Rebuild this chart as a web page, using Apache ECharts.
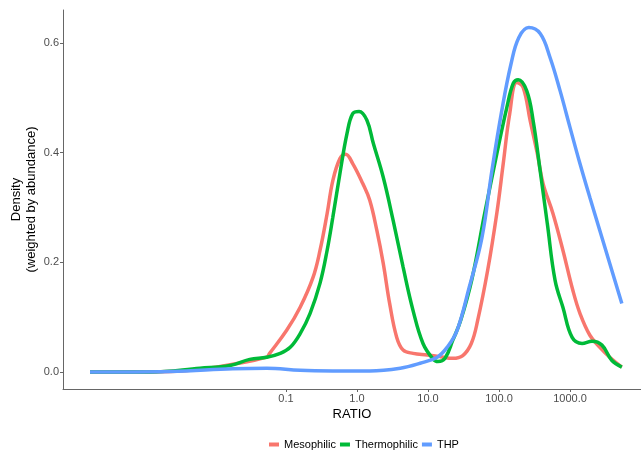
<!DOCTYPE html>
<html>
<head>
<meta charset="utf-8">
<script src="https://cdn.jsdelivr.net/npm/echarts@6/dist/echarts.min.js"></script>
<style>
html, body { margin: 0; padding: 0; background: #fff; }
#main { width: 641px; height: 450px; }
</style>
</head>
<body>
<div id="main"></div>
<script>
// x values are log10(RATIO)
var mesoX = [-3.76, -2.92, -2.35, -1.75, -1.27, -1.23, -0.99, -0.80, -0.62, -0.52, -0.42, -0.34, -0.24, -0.16, -0.06, 0.08, 0.18, 0.28, 0.37, 0.46, 0.56, 0.65, 0.79, 0.99, 1.17, 1.35, 1.49, 1.61, 1.70, 1.84, 1.97, 2.06, 2.15, 2.25, 2.34, 2.44, 2.54, 2.62, 2.76, 2.90, 3.04, 3.14, 3.28, 3.42, 3.56, 3.73];
var mesoY = [0, 0, 0.003, 0.014, 0.027, 0.034, 0.076, 0.118, 0.172, 0.222, 0.289, 0.349, 0.389, 0.397, 0.380, 0.344, 0.313, 0.258, 0.198, 0.125, 0.063, 0.040, 0.034, 0.031, 0.028, 0.025, 0.030, 0.052, 0.094, 0.185, 0.290, 0.380, 0.470, 0.528, 0.519, 0.458, 0.398, 0.344, 0.289, 0.222, 0.149, 0.107, 0.067, 0.045, 0.027, 0.009];

var thermoX = [-3.76, -2.92, -2.21, -1.79, -1.51, -1.27, -1.08, -0.94, -0.80, -0.66, -0.52, -0.42, -0.34, -0.24, -0.14, -0.06, 0.03, 0.14, 0.23, 0.37, 0.51, 0.65, 0.79, 0.93, 1.07, 1.14, 1.24, 1.35, 1.46, 1.62, 1.80, 1.97, 2.11, 2.20, 2.27, 2.39, 2.48, 2.58, 2.68, 2.79, 2.90, 3.03, 3.17, 3.31, 3.45, 3.59, 3.73];
var thermoY = [0, 0, 0.007, 0.012, 0.023, 0.027, 0.034, 0.045, 0.070, 0.107, 0.162, 0.222, 0.282, 0.362, 0.435, 0.471, 0.475, 0.459, 0.417, 0.355, 0.276, 0.191, 0.112, 0.052, 0.024, 0.019, 0.025, 0.058, 0.094, 0.170, 0.290, 0.398, 0.482, 0.526, 0.533, 0.513, 0.459, 0.367, 0.271, 0.167, 0.118, 0.063, 0.052, 0.056, 0.049, 0.021, 0.009];

var thpX = [-3.76, -2.63, -1.75, -1.27, -0.80, -0.34, 0.18, 0.61, 0.89, 1.13, 1.27, 1.41, 1.58, 1.76, 1.90, 2.04, 2.17, 2.28, 2.42, 2.58, 2.72, 2.86, 3.00, 3.14, 3.28, 3.42, 3.56, 3.73];
var thpY = [0, 0.001, 0.006, 0.007, 0.003, 0.002, 0.002, 0.007, 0.016, 0.027, 0.045, 0.076, 0.154, 0.245, 0.367, 0.477, 0.562, 0.610, 0.628, 0.617, 0.573, 0.513, 0.446, 0.380, 0.318, 0.258, 0.198, 0.125];

var xTickPos = [-1, 0, 1, 2, 3];
var xTickLabels = ['0.1', '1.0', '10.0', '100.0', '1000.0'];
var yTicks = [0, 0.2, 0.4, 0.6];
var yTickLabels = ['0.0', '0.2', '0.4', '0.6'];

var names = ['Mesophilic', 'Thermophilic', 'THP'];
var colors = ['#F8766D', '#00BA38', '#619CFF'];

function zip(xs, ys) {
	var out = [];
	for (var i = 0; i < xs.length; i++) {
		out.push([xs[i], ys[i]]);
	}
	return out;
}

var allData = [zip(mesoX, mesoY), zip(thermoX, thermoY), zip(thpX, thpY)];

var series = [];
for (var i = 0; i < names.length; i++) {
	series.push({
		name : names[i],
		type : 'line',
		data : allData[i],
		smooth : 0.4,
		showSymbol : false,
		lineStyle : { width : 3.5, color : colors[i] },
		itemStyle : { color : colors[i] }
	});
}

var axisColor = '#4d4d4d';
var font = 'Liberation Sans, Arial, sans-serif';

var myChart = echarts.init(document.getElementById('main'));
var option = {
	animation : false,
	textStyle : { fontFamily : font },
	grid : { left : 63, right : 0, top : 10, bottom : 61, containLabel : false, outerBoundsMode : 'none' },
	legend : {
		data : names,
		left : 264,
		top : 434,
		icon : 'rect',
		itemWidth : 10,
		itemHeight : 4,
		itemGap : 4,
		textStyle : { fontSize : 11, color : '#000', fontFamily : font }
	},
	xAxis : {
		type : 'value',
		min : -4.14,
		max : 4.0,
		name : 'RATIO',
		nameLocation : 'middle',
		nameGap : 19,
		nameMoveOverlap : false,
		nameTextStyle : { fontSize : 13, color : '#000', fontFamily : font },
		axisLine : { show : true, onZero : false, lineStyle : { color : '#666', width : 1 } },
		axisTick : { show : true, length : 3, customValues : xTickPos, lineStyle : { color : '#666' } },
		axisLabel : {
			customValues : xTickPos,
			margin : 4,
			fontSize : 11,
			color : axisColor,
			formatter : function(v) {
				var k = xTickPos.indexOf(v);
				return k >= 0 ? xTickLabels[k] : '';
			}
		},
		splitLine : { show : false }
	},
	yAxis : {
		type : 'value',
		min : -0.031,
		max : 0.66,
		name : 'Density\n(weighted by abundance)',
		nameLocation : 'middle',
		nameGap : 24,
		nameMoveOverlap : false,
		nameRotate : 90,
		nameTextStyle : { fontSize : 13, color : '#000', lineHeight : 15, fontFamily : font },
		axisLine : { show : true, onZero : false, lineStyle : { color : '#666', width : 1 } },
		axisTick : { show : true, length : 3, customValues : yTicks, lineStyle : { color : '#666' } },
		axisLabel : {
			customValues : yTicks,
			margin : 4,
			fontSize : 11,
			color : axisColor,
			formatter : function(v) {
				var k = yTicks.indexOf(v);
				return k >= 0 ? yTickLabels[k] : '';
			}
		},
		splitLine : { show : false }
	},
	series : series
};
myChart.setOption(option);
</script>
</body>
</html>
